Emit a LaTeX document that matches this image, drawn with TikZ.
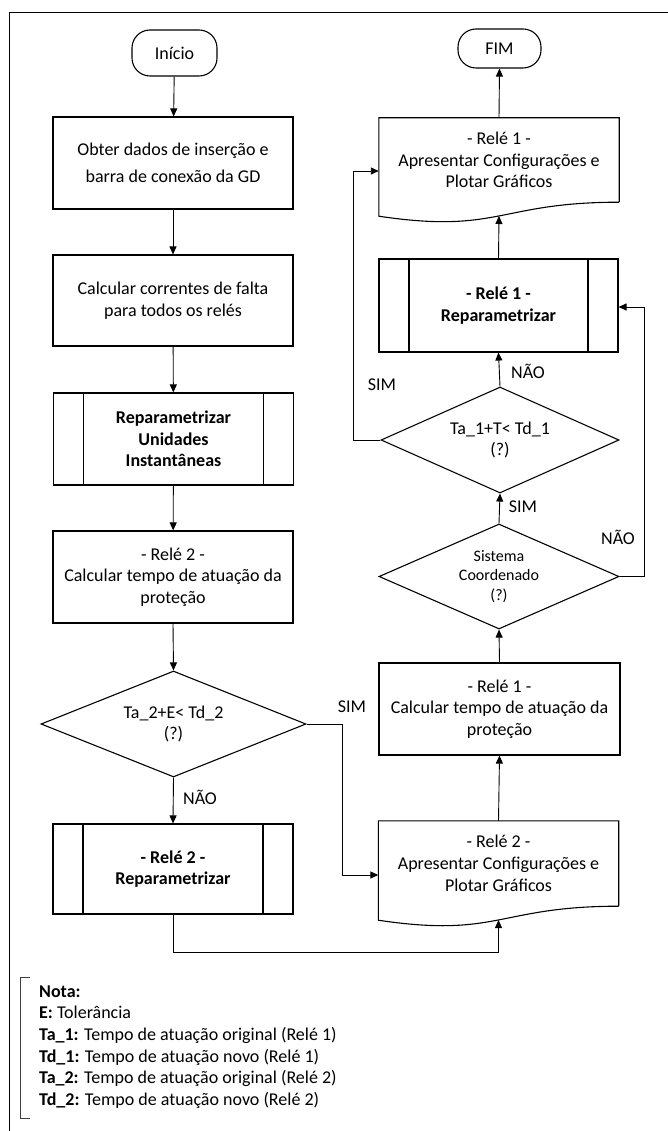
\documentclass[tikz,border=0pt]{standalone}
\usepackage{fontspec}
\setmainfont{Carlito}
\usetikzlibrary{shapes.geometric,arrows.meta,calc}
\begin{document}
\begin{tikzpicture}[x=1pt,y=-1pt,
  every node/.style={font=\fontsize{18}{21.7}\selectfont, text=black},
  box/.style={draw, line width=1.1pt, rectangle, align=center, inner sep=0pt, minimum width=240pt},
  term/.style={draw, line width=1.1pt, rounded corners=18pt, align=center, inner sep=0pt},
  predef/.style={box, path picture={\draw[line width=1.1pt]
      ([xshift=30pt]path picture bounding box.north west) -- ([xshift=30pt]path picture bounding box.south west)
      ([xshift=-30pt]path picture bounding box.north east) -- ([xshift=-30pt]path picture bounding box.south east);}},
  docbox/.style={rectangle, align=center, inner sep=0pt, minimum width=240pt},
  dec/.style={draw, diamond, line width=1.1pt, align=center, inner sep=0pt, aspect=2.4},
  arr/.style={line width=0.9pt, -{Triangle[length=8pt,width=7pt]}},
  lbl/.style={inner sep=0pt},
  docline/.style={draw, line width=1.1pt}
]
\useasboundingbox (0,0) rectangle (668,1131);
% frame
\draw[line width=1.8pt] (9.5,1131) -- (9.5,12.5) -- (668,12.5);

% left column
\node[term, minimum width=85pt, minimum height=46pt] (start) at (174.5,53) {Início};
\node[box, minimum height=92pt, font=\fontsize{18}{26.7}\selectfont] (b1) at (173,163) {Obter dados de inserção e\\barra de conexão da GD};
\node[box, minimum height=91pt] (b2) at (173,300.5) {Calcular correntes de falta\\para todos os relés};
\node[predef, minimum height=92pt] (b3) at (173.5,439) {\bfseries Reparametrizar\\\bfseries Unidades\\\bfseries Instantâneas};
\node[box, minimum height=92pt] (b4) at (173,577) {- Relé 2 -\\Calcular tempo de atuação da\\proteção};
\node[dec, minimum width=265pt, minimum height=106pt] (d1) at (173.5,724) {Ta\_2+E< Td\_2\\(?)};
\node[predef, minimum height=90pt] (b5) at (173,869) {\bfseries - Relé 2 -\\\bfseries Reparametrizar};

% right column
\node[docbox, minimum height=85pt] (p2) at (498.5,863.5) {- Relé 2 -\\Apresentar Configurações e\\Plotar Gráficos};
\draw[docline] (p2.south east) -- (p2.north east) -- (p2.north west) -- ($(p2.south west)+(0,14)$)
  .. controls ($(p2.south)+(0,32)$) and (p2.south) .. (p2.south east);
\coordinate (p2w) at ($(p2.south)+(0,13.8)$);

\node[box, minimum width=241pt, minimum height=92pt] (c1) at (499.5,709) {- Relé 1 -\\Calcular tempo de atuação da\\proteção};
\node[dec, minimum width=240pt, minimum height=105pt, font=\fontsize{16}{19.4}\selectfont] (d2) at (499,576.5) {Sistema\\Coordenado\\(?)};
\node[dec, minimum width=238pt, minimum height=106pt] (d3) at (500,440) {Ta\_1+T< Td\_1\\(?)};
\node[predef, minimum width=239pt, minimum height=93pt] (r1) at (498.5,305.5) {\bfseries - Relé 1 -\\\bfseries Reparametrizar};

\node[docbox, minimum height=84pt] (p1) at (499,160) {\raisebox{-3pt}{\parbox{240pt}{\centering - Relé 1 -\\Apresentar Configurações e\\Plotar Gráficos}}};
\draw[docline] (p1.south east) -- (p1.north east) -- (p1.north west) -- ($(p1.south west)+(0,14)$)
  .. controls ($(p1.south)+(0,32)$) and (p1.south) .. (p1.south east);
\coordinate (p1w) at ($(p1.south)+(0,13.8)$);

\node[term, minimum width=83pt, minimum height=39pt] (fim) at (499.5,48.5) {FIM};

% junction points
\coordinate (j1) at (342,875);
\coordinate (j2) at (498.5,952);
\coordinate (j3) at (644,307);
\coordinate (j4) at (353,171);

% connectors left
\draw[arr] (start) -- (b1);
\draw[arr] (b1) -- (b2);
\draw[arr] (b2) -- (b3);
\draw[arr] (b3) -- (b4);
\draw[arr] (b4.south) -- (d1.north);
\draw[arr] (d1.south) -- (b5.north);
\draw[arr] (d1.east) -| (j1) -- (j1 -| p2.west);
\draw[arr] (b5.south) |- (j2) -- (p2w);

% connectors right
\draw[arr] (p2.north) -- (c1.south);
\draw[arr] (c1.north) -- (d2.south);
\draw[arr] (d2.north) -- (d3.south);
\draw[arr] (d2.east) -| (j3) -- (j3 -| r1.east);
\draw[arr] (d3.north) -- (r1.south);
\draw[arr] (d3.west) -| (j4) -- (j4 -| p1.west);
\draw[arr] (r1.north) -- (p1w);
\draw[arr] (p1.north) -- (fim.south);

% labels
\node[lbl] (l1) at (352,707) {SIM};
\node[lbl] (l2) at (200,797) {NÃO};
\node[lbl] (l3) at (523,507) {SIM};
\node[lbl] (l4) at (618,537) {NÃO};
\node[lbl] (l5) at (528,371) {NÃO};
\node[lbl] (l6) at (382,385) {SIM};

% nota
\draw[line width=0.8pt, black!75] (30,977) -- (20,977) -- (20,1118) -- (30,1118);
\node[anchor=west, align=left, inner sep=0pt] (nota) at (39,1047) {\textbf{Nota:}\\
\textbf{E:} Tolerância\\
\textbf{Ta\_1:} Tempo de atuação original (Relé 1)\\
\textbf{Td\_1:} Tempo de atuação novo (Relé 1)\\
\textbf{Ta\_2:} Tempo de atuação original (Relé 2)\\
\textbf{Td\_2:} Tempo de atuação novo (Relé 2)};
\end{tikzpicture}
\end{document}
